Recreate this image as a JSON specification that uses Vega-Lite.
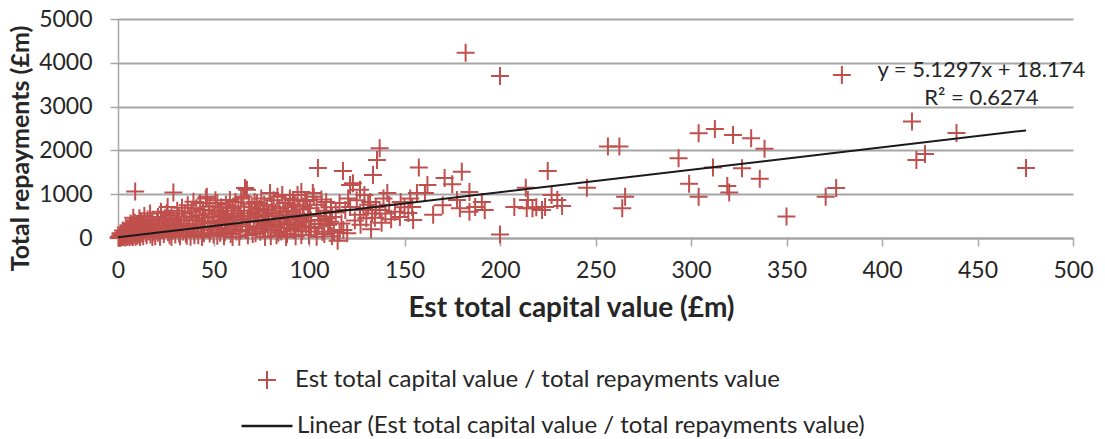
{
  "$schema": "https://vega.github.io/schema/vega-lite/v6.json",
  "width": 955,
  "height": 219,
  "autosize": {"type": "none"},
  "padding": {"left": 118, "top": 19, "right": 32, "bottom": 201},
  "background": "white",
  "config": {
    "font": "Lato",
    "view": {"stroke": null},
    "axis": {"labelFont": "Lato", "titleFont": "Lato", "labelFlush": false, "labelOverlap": false}
  },
  "datasets": {
    "loans": [
      {"capital": 0.3, "repayments": 5}, {"capital": 0.5, "repayments": 20}, {"capital": 0.8, "repayments": 12}, {"capital": 1, "repayments": 40},
      {"capital": 1.2, "repayments": 8}, {"capital": 1.3, "repayments": 110}, {"capital": 1.5, "repayments": 60}, {"capital": 1.8, "repayments": 25},
      {"capital": 2, "repayments": 90}, {"capital": 2.2, "repayments": 15}, {"capital": 2.5, "repayments": 45}, {"capital": 2.6, "repayments": 170},
      {"capital": 2.8, "repayments": 110}, {"capital": 3, "repayments": 30}, {"capital": 3.2, "repayments": 70}, {"capital": 3.5, "repayments": 140},
      {"capital": 3.8, "repayments": 10}, {"capital": 4, "repayments": 55}, {"capital": 4.1, "repayments": 240}, {"capital": 4.2, "repayments": 180},
      {"capital": 4.5, "repayments": 95}, {"capital": 4.8, "repayments": 30}, {"capital": 5, "repayments": 120}, {"capital": 5.2, "repayments": 220},
      {"capital": 5.5, "repayments": 60}, {"capital": 5.8, "repayments": 150}, {"capital": 6, "repayments": 15}, {"capital": 6.2, "repayments": 260},
      {"capital": 6.5, "repayments": 85}, {"capital": 6.6, "repayments": 330}, {"capital": 6.8, "repayments": 190}, {"capital": 7, "repayments": 40},
      {"capital": 7.2, "repayments": 300}, {"capital": 7.5, "repayments": 120}, {"capital": 7.8, "repayments": 20}, {"capital": 8, "repayments": 230},
      {"capital": 8, "repayments": 460}, {"capital": 8.2, "repayments": 70}, {"capital": 8.5, "repayments": 160}, {"capital": 8.8, "repayments": 350},
      {"capital": 9, "repayments": 110}, {"capital": 9, "repayments": 1060}, {"capital": 9.2, "repayments": 30}, {"capital": 9.5, "repayments": 260},
      {"capital": 9.8, "repayments": 190}, {"capital": 10, "repayments": 50}, {"capital": 10.3, "repayments": 140}, {"capital": 10.5, "repayments": 310},
      {"capital": 10.8, "repayments": 80}, {"capital": 11, "repayments": 220}, {"capital": 11.2, "repayments": 450}, {"capital": 11.5, "repayments": 25},
      {"capital": 11.8, "repayments": 170}, {"capital": 12, "repayments": 380}, {"capital": 12.5, "repayments": 100}, {"capital": 13, "repayments": 260},
      {"capital": 13.2, "repayments": 40}, {"capital": 13.5, "repayments": 190}, {"capital": 13.8, "repayments": 500}, {"capital": 14, "repayments": 330},
      {"capital": 14.5, "repayments": 120}, {"capital": 15, "repayments": 60}, {"capital": 15.2, "repayments": 240}, {"capital": 15.5, "repayments": 420},
      {"capital": 16, "repayments": 150}, {"capital": 16.5, "repayments": 300}, {"capital": 16.8, "repayments": 560}, {"capital": 17, "repayments": 80},
      {"capital": 17.5, "repayments": 210}, {"capital": 18, "repayments": 410}, {"capital": 18, "repayments": 20}, {"capital": 18.5, "repayments": 130},
      {"capital": 19, "repayments": 280}, {"capital": 19.5, "repayments": 40}, {"capital": 20, "repayments": 190}, {"capital": 20.5, "repayments": 350},
      {"capital": 20.8, "repayments": 120}, {"capital": 21, "repayments": 480}, {"capital": 21.5, "repayments": 260}, {"capital": 22, "repayments": 30},
      {"capital": 22, "repayments": 110}, {"capital": 22.5, "repayments": 600}, {"capital": 23, "repayments": 180}, {"capital": 23.5, "repayments": 350},
      {"capital": 24, "repayments": 90}, {"capital": 24, "repayments": 200}, {"capital": 24.5, "repayments": 450}, {"capital": 25, "repayments": 240},
      {"capital": 25.5, "repayments": 570}, {"capital": 26, "repayments": 710}, {"capital": 26.2, "repayments": 130}, {"capital": 26.8, "repayments": 380},
      {"capital": 27, "repayments": 60}, {"capital": 27.5, "repayments": 290}, {"capital": 28, "repayments": 520}, {"capital": 28, "repayments": 20},
      {"capital": 28.5, "repayments": 170}, {"capital": 29, "repayments": 1040}, {"capital": 29.5, "repayments": 410}, {"capital": 30, "repayments": 80},
      {"capital": 30.5, "repayments": 330}, {"capital": 31, "repayments": 620}, {"capital": 31.5, "repayments": 200}, {"capital": 32, "repayments": 470},
      {"capital": 32, "repayments": 100}, {"capital": 32.5, "repayments": 40}, {"capital": 33, "repayments": 280}, {"capital": 33.5, "repayments": 690},
      {"capital": 34, "repayments": 150}, {"capital": 34.5, "repayments": 400}, {"capital": 35, "repayments": 560}, {"capital": 35.5, "repayments": 100},
      {"capital": 36, "repayments": 320}, {"capital": 36, "repayments": 50}, {"capital": 36.5, "repayments": 750}, {"capital": 37, "repayments": 220},
      {"capital": 37.5, "repayments": 480}, {"capital": 38, "repayments": 30}, {"capital": 38.5, "repayments": 600}, {"capital": 39, "repayments": 260},
      {"capital": 39.5, "repayments": 830}, {"capital": 40, "repayments": 140}, {"capital": 40, "repayments": 60}, {"capital": 40.5, "repayments": 420},
      {"capital": 41, "repayments": 680}, {"capital": 41.5, "repayments": 300}, {"capital": 42, "repayments": 60}, {"capital": 42.5, "repayments": 520},
      {"capital": 43, "repayments": 800}, {"capital": 43.5, "repayments": 200}, {"capital": 44, "repayments": 380}, {"capital": 44, "repayments": 20},
      {"capital": 44.5, "repayments": 640}, {"capital": 45, "repayments": 110}, {"capital": 45.5, "repayments": 460}, {"capital": 46, "repayments": 900},
      {"capital": 46.5, "repayments": 940}, {"capital": 47, "repayments": 250}, {"capital": 47.5, "repayments": 560}, {"capital": 48, "repayments": 720},
      {"capital": 48, "repayments": 100}, {"capital": 48.5, "repayments": 170}, {"capital": 49, "repayments": 340}, {"capital": 49.5, "repayments": 620},
      {"capital": 50, "repayments": 80}, {"capital": 50.5, "repayments": 480}, {"capital": 51, "repayments": 860},
      {"capital": 51.5, "repayments": 230}, {"capital": 52, "repayments": 800}, {"capital": 52, "repayments": 50}, {"capital": 52.5, "repayments": 390},
      {"capital": 53, "repayments": 600}, {"capital": 53, "repayments": 350}, {"capital": 53.5, "repayments": 120}, {"capital": 54, "repayments": 700},
      {"capital": 54.5, "repayments": 300}, {"capital": 55, "repayments": 520}, {"capital": 55.5, "repayments": 40}, {"capital": 56, "repayments": 420},
      {"capital": 56, "repayments": 130}, {"capital": 56.5, "repayments": 760}, {"capital": 57, "repayments": 200}, {"capital": 57, "repayments": 450},
      {"capital": 57.5, "repayments": 620}, {"capital": 58, "repayments": 340}, {"capital": 58.6, "repayments": 870}, {"capital": 59, "repayments": 90},
      {"capital": 59.5, "repayments": 480}, {"capital": 60, "repayments": 680}, {"capital": 60, "repayments": 20}, {"capital": 60.5, "repayments": 260},
      {"capital": 61, "repayments": 560}, {"capital": 61, "repayments": 300}, {"capital": 61.5, "repayments": 820}, {"capital": 62, "repayments": 150},
      {"capital": 62.5, "repayments": 400}, {"capital": 63, "repayments": 720}, {"capital": 63.5, "repayments": 30}, {"capital": 64, "repayments": 500},
      {"capital": 64, "repayments": 160}, {"capital": 64.5, "repayments": 900}, {"capital": 65, "repayments": 310}, {"capital": 65, "repayments": 420},
      {"capital": 65.6, "repayments": 940}, {"capital": 66, "repayments": 620}, {"capital": 66.5, "repayments": 1140}, {"capital": 67, "repayments": 180},
      {"capital": 67.5, "repayments": 1100}, {"capital": 68, "repayments": 450}, {"capital": 68, "repayments": 60}, {"capital": 68.5, "repayments": 780},
      {"capital": 69, "repayments": 260}, {"capital": 69, "repayments": 380}, {"capital": 69.5, "repayments": 560}, {"capital": 70, "repayments": 700},
      {"capital": 70.5, "repayments": 90}, {"capital": 71, "repayments": 380}, {"capital": 71.5, "repayments": 820}, {"capital": 72, "repayments": 600},
      {"capital": 72, "repayments": 110}, {"capital": 72.7, "repayments": 800}, {"capital": 73, "repayments": 230}, {"capital": 73, "repayments": 520},
      {"capital": 73.5, "repayments": 480}, {"capital": 74, "repayments": 660}, {"capital": 74.5, "repayments": 140}, {"capital": 75, "repayments": 900},
      {"capital": 75.5, "repayments": 350}, {"capital": 76, "repayments": 540}, {"capital": 76, "repayments": 200}, {"capital": 76.5, "repayments": 760},
      {"capital": 77, "repayments": 20}, {"capital": 77, "repayments": 300}, {"capital": 77.5, "repayments": 420}, {"capital": 78, "repayments": 640},
      {"capital": 78.5, "repayments": 280}, {"capital": 79, "repayments": 500}, {"capital": 79.6, "repayments": 1030}, {"capital": 80, "repayments": 180},
      {"capital": 80, "repayments": 40}, {"capital": 80.5, "repayments": 720}, {"capital": 81, "repayments": 400}, {"capital": 81, "repayments": 560},
      {"capital": 81.5, "repayments": 860}, {"capital": 82, "repayments": 250}, {"capital": 82.5, "repayments": 580}, {"capital": 83, "repayments": 60},
      {"capital": 83.5, "repayments": 940}, {"capital": 84, "repayments": 360}, {"capital": 84, "repayments": 120}, {"capital": 84.5, "repayments": 680},
      {"capital": 85, "repayments": 470}, {"capital": 85, "repayments": 350}, {"capital": 85.5, "repayments": 150}, {"capital": 86, "repayments": 980},
      {"capital": 86.5, "repayments": 620}, {"capital": 87, "repayments": 300}, {"capital": 87.5, "repayments": 800}, {"capital": 88, "repayments": 520},
      {"capital": 88, "repayments": 20}, {"capital": 88.5, "repayments": 90}, {"capital": 89, "repayments": 700}, {"capital": 89, "repayments": 520},
      {"capital": 89.5, "repayments": 420}, {"capital": 90, "repayments": 900}, {"capital": 90.5, "repayments": 230}, {"capital": 91, "repayments": 600},
      {"capital": 91.6, "repayments": 870}, {"capital": 92, "repayments": 350}, {"capital": 92, "repayments": 180}, {"capital": 92.5, "repayments": 760},
      {"capital": 93, "repayments": 40}, {"capital": 93, "repayments": 300}, {"capital": 93.5, "repayments": 540}, {"capital": 94, "repayments": 980},
      {"capital": 94.5, "repayments": 280}, {"capital": 95, "repayments": 650}, {"capital": 95.5, "repayments": 440}, {"capital": 96, "repayments": 1050},
      {"capital": 96, "repayments": 70}, {"capital": 96.5, "repayments": 160}, {"capital": 97, "repayments": 720}, {"capital": 97, "repayments": 480},
      {"capital": 97.5, "repayments": 380}, {"capital": 98, "repayments": 840}, {"capital": 98.5, "repayments": 260}, {"capital": 99, "repayments": 870},
      {"capital": 99.5, "repayments": 540}, {"capital": 100, "repayments": 60}, {"capital": 100, "repayments": 150}, {"capital": 100.5, "repayments": 680},
      {"capital": 101, "repayments": 400}, {"capital": 101, "repayments": 250}, {"capital": 102, "repayments": 1030}, {"capital": 102.5, "repayments": 940},
      {"capital": 103, "repayments": 220}, {"capital": 104, "repayments": 760}, {"capital": 104, "repayments": 30}, {"capital": 104.7, "repayments": 1600},
      {"capital": 105, "repayments": 500}, {"capital": 105, "repayments": 320}, {"capital": 106, "repayments": 410}, {"capital": 106.5, "repayments": 880},
      {"capital": 107, "repayments": 140}, {"capital": 108, "repayments": 620}, {"capital": 108, "repayments": 90}, {"capital": 109, "repayments": 820},
      {"capital": 109, "repayments": 450}, {"capital": 110, "repayments": 300}, {"capital": 111, "repayments": 370}, {"capital": 111.5, "repayments": 700},
      {"capital": 112, "repayments": 480}, {"capital": 112, "repayments": 40}, {"capital": 113, "repayments": 150}, {"capital": 114, "repayments": 580},
      {"capital": 115, "repayments": -60}, {"capital": 116, "repayments": 800}, {"capital": 116, "repayments": 120}, {"capital": 117, "repayments": 330},
      {"capital": 117.8, "repayments": 1530}, {"capital": 118, "repayments": 180}, {"capital": 119, "repayments": 640}, {"capital": 120, "repayments": 110},
      {"capital": 120.5, "repayments": 900},
      {"capital": 121.5, "repayments": 1210}, {"capital": 121.5, "repayments": 710}, {"capital": 123, "repayments": 1250}, {"capital": 124, "repayments": 400},
      {"capital": 125, "repayments": 860}, {"capital": 126.7, "repayments": 1100}, {"capital": 126.7, "repayments": 530}, {"capital": 127, "repayments": 300},
      {"capital": 128.5, "repayments": 640}, {"capital": 129, "repayments": 980}, {"capital": 130, "repayments": 450}, {"capital": 131, "repayments": 760},
      {"capital": 132, "repayments": 820}, {"capital": 132.5, "repayments": 200}, {"capital": 133, "repayments": 560}, {"capital": 133.5, "repayments": 1440},
      {"capital": 134.5, "repayments": 460}, {"capital": 135, "repayments": 700}, {"capital": 135.6, "repayments": 1780}, {"capital": 137, "repayments": 2050},
      {"capital": 137, "repayments": 640}, {"capital": 138, "repayments": 350}, {"capital": 139, "repayments": 900}, {"capital": 140, "repayments": 560},
      {"capital": 141, "repayments": 1030}, {"capital": 142, "repayments": 760}, {"capital": 143, "repayments": 430}, {"capital": 145, "repayments": 600},
      {"capital": 147.6, "repayments": 480}, {"capital": 148, "repayments": 820}, {"capital": 150, "repayments": 700}, {"capital": 152, "repayments": 570},
      {"capital": 153, "repayments": 900}, {"capital": 154, "repayments": 710}, {"capital": 154.5, "repayments": 410}, {"capital": 156.5, "repayments": 1030},
      {"capital": 157.5, "repayments": 1610}, {"capital": 160.7, "repayments": 1030}, {"capital": 162, "repayments": 1210}, {"capital": 165, "repayments": 530},
      {"capital": 170, "repayments": 750}, {"capital": 171, "repayments": 1370}, {"capital": 175, "repayments": 1230}, {"capital": 177.5, "repayments": 870},
      {"capital": 179, "repayments": 680}, {"capital": 180, "repayments": 1510}, {"capital": 182, "repayments": 4230}, {"capital": 184, "repayments": 1050},
      {"capital": 184, "repayments": 600}, {"capital": 187, "repayments": 710}, {"capital": 190.5, "repayments": 820}, {"capital": 192, "repayments": 640},
      {"capital": 200, "repayments": 3700}, {"capital": 200, "repayments": 80}, {"capital": 207.5, "repayments": 710}, {"capital": 213.5, "repayments": 1150},
      {"capital": 214.6, "repayments": 870}, {"capital": 214, "repayments": 680}, {"capital": 217, "repayments": 680}, {"capital": 219, "repayments": 700},
      {"capital": 222, "repayments": 640}, {"capital": 223.6, "repayments": 710}, {"capital": 225, "repayments": 1530}, {"capital": 227, "repayments": 980},
      {"capital": 230, "repayments": 870}, {"capital": 232.5, "repayments": 730}, {"capital": 245.5, "repayments": 1150}, {"capital": 256.5, "repayments": 2090},
      {"capital": 262.5, "repayments": 2090}, {"capital": 265.5, "repayments": 940}, {"capital": 264, "repayments": 680}, {"capital": 293.5, "repayments": 1820},
      {"capital": 299, "repayments": 1240}, {"capital": 304, "repayments": 940}, {"capital": 304, "repayments": 2390}, {"capital": 312.5, "repayments": 2490},
      {"capital": 311.5, "repayments": 1610}, {"capital": 319, "repayments": 1190}, {"capital": 320, "repayments": 1040}, {"capital": 322, "repayments": 2350},
      {"capital": 326.7, "repayments": 1590}, {"capital": 331.5, "repayments": 2280}, {"capital": 336, "repayments": 1350}, {"capital": 338.5, "repayments": 2040},
      {"capital": 350, "repayments": 490}, {"capital": 370.5, "repayments": 940}, {"capital": 376, "repayments": 1140}, {"capital": 379, "repayments": 3720},
      {"capital": 415.7, "repayments": 2660}, {"capital": 418, "repayments": 1780}, {"capital": 422.5, "repayments": 1920}, {"capital": 439, "repayments": 2400},
      {"capital": 475.4, "repayments": 1600}
    ],
    "trend": [
      {"capital": 0, "repayments": 18.174},
      {"capital": 475.4, "repayments": 2456.83}
    ],
    "equation": [
      {"capital": 452, "repayments": 3836, "label": "y = 5.1297x + 18.174"},
      {"capital": 452, "repayments": 3196, "label": "R² = 0.6274"}
    ]
  },
  "encoding": {
    "x": {
      "field": "capital",
      "type": "quantitative",
      "scale": {"domain": [0, 500], "nice": false, "zero": false},
      "axis": {
        "values": [0, 50, 100, 150, 200, 250, 300, 350, 400, 450, 500],
        "format": "d",
        "grid": false,
        "domainColor": "#A6A6A6",
        "domainWidth": 2,
        "tickColor": "#A6A6A6",
        "tickWidth": 1.5,
        "tickSize": 8,
        "labelFontSize": 23,
        "labelColor": "#262626",
        "labelPadding": 13,
        "title": "Est total capital value (£m)",
        "titleFontSize": 28,
        "titleFontWeight": "bold",
        "titleColor": "#262626",
        "titleX": 453,
        "titlePadding": 12
      }
    },
    "y": {
      "field": "repayments",
      "type": "quantitative",
      "scale": {"domain": [0, 5000], "nice": false, "zero": false},
      "axis": {
        "values": [0, 1000, 2000, 3000, 4000, 5000],
        "format": "d",
        "grid": true,
        "gridColor": "#A6A6A6",
        "gridWidth": 2,
        "domainColor": "#A6A6A6",
        "domainWidth": 1.5,
        "tickColor": "#A6A6A6",
        "tickWidth": 1.5,
        "tickSize": 8,
        "labelFontSize": 23,
        "labelColor": "#262626",
        "labelPadding": 18,
        "title": "Total repayments (£m)",
        "titleFontSize": 25,
        "titleFontWeight": "bold",
        "titleColor": "#262626",
        "titleY": 129,
        "titlePadding": 5
      }
    }
  },
  "layer": [
    {
      "data": {"name": "loans"},
      "mark": {
        "type": "point",
        "shape": "M-1,0H1M0,-1V1",
        "filled": false,
        "size": 324,
        "strokeWidth": 2,
        "opacity": 1
      },
      "encoding": {
        "color": {
          "datum": "Est total capital value / total repayments value",
          "type": "nominal",
          "scale": {"range": ["#C0504D"]},
          "legend": {
            "orient": "none",
            "legendX": 137,
            "legendY": 349,
            "title": null,
            "padding": 0,
            "symbolType": "M-1,0H1M0,-1V1",
            "symbolSize": 324,
            "symbolStrokeWidth": 2,
            "labelFont": "Lato",
            "labelFontSize": 24,
            "labelColor": "#262626",
            "labelOffset": 16,
            "labelLimit": 0
          }
        }
      }
    },
    {
      "data": {"name": "trend"},
      "mark": {"type": "line", "strokeWidth": 2},
      "encoding": {
        "stroke": {
          "datum": "Linear (Est total capital value / total repayments value)",
          "type": "nominal",
          "scale": {"range": ["#1A1A1A"]},
          "legend": {
            "orient": "none",
            "legendX": 122,
            "legendY": 380,
            "title": null,
            "padding": 0,
            "symbolType": "stroke",
            "symbolSize": 2601,
            "symbolStrokeWidth": 2.5,
            "labelFont": "Lato",
            "labelFontSize": 24,
            "labelColor": "#262626",
            "labelOffset": 3,
            "labelLimit": 0
          }
        }
      }
    },
    {
      "data": {"name": "equation"},
      "mark": {"type": "text", "font": "Lato", "fontSize": 22, "align": "center", "baseline": "middle", "color": "#262626"},
      "encoding": {
        "text": {"field": "label", "type": "nominal"}
      }
    }
  ]
}
